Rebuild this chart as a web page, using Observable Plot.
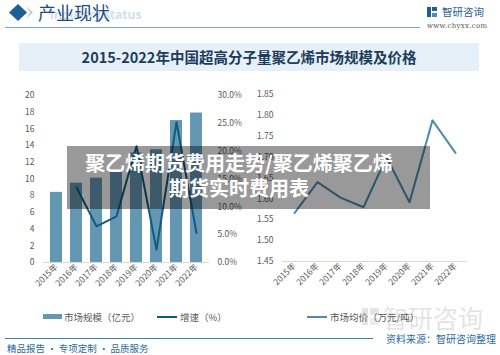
<!DOCTYPE html>
<html>
<head>
<meta charset="utf-8">
<script src="https://cdn.jsdelivr.net/npm/d3@7"></script>
<script src="https://cdn.jsdelivr.net/npm/@observablehq/plot@0.6"></script>
<style>
  html, body { margin:0; padding:0; background:#fff; }
  #root { position:relative; width:500px; height:355px; overflow:hidden; font-family:"Noto Sans CJK SC","Noto Sans",sans-serif; }
  .abs { position:absolute; }
  .plot { position:absolute; }
  .plot svg { background:transparent; }
</style>
</head>
<body>
<div id="root">
  <!-- header -->
  <div class="abs" style="left:50px;top:6px;font-size:12px;font-weight:bold;color:#d3dfea;font-family:'Open Sans',sans-serif;">Industry status</div>
  <svg class="abs" style="left:0;top:0" width="60" height="30">
    <path d="M18,4 L27,12.5 L18,21 L9,12.5 Z" fill="#1d5f96"/>
    <path d="M26,6 L33,12.5 L26,19 L30,12.5 Z" fill="#b9cfe2"/>
  </svg>
  <div class="abs" style="left:38px;top:0px;font-size:18px;color:#1a4f7c;line-height:24px;">产业现状</div>
  <div class="abs" style="left:5px;top:27px;width:415px;height:1px;background:#7fa6c6;"></div>
  <svg class="abs" style="left:427px;top:7px" width="12" height="11">
    <rect x="0" y="0" width="4" height="10" fill="#1d5f96"/>
    <rect x="5" y="0" width="5" height="4" fill="#1d5f96"/>
    <rect x="5" y="6" width="5" height="4" fill="#4a8bc4"/>
  </svg>
  <div class="abs" style="left:442px;top:5px;font-size:10.5px;color:#2e5e8e;line-height:14px;">智研咨询</div>
  <div class="abs" style="left:427px;top:22px;font-size:7px;color:#555;font-family:'DejaVu Serif',serif;letter-spacing:0.3px;">www.chyxx.com</div>

  <!-- title box -->
  <div class="abs" style="left:19px;top:43px;width:460px;height:28px;background:#e5f0f8;"></div>
  <div class="abs" style="left:19px;top:43px;width:460px;height:28px;line-height:28px;text-align:center;font-size:14.5px;font-weight:bold;color:#1f3c5a;">2015-2022年中国超高分子量聚乙烯市场规模及价格</div>

  <!-- charts -->
  <div id="left1" class="plot" style="left:0;top:85px"></div>
  <div id="left2" class="plot" style="left:0;top:85px"></div>
  <div id="right1" class="plot" style="left:250px;top:85px"></div>

  <!-- watermark bottom-right -->
  <div class="abs" style="left:383px;top:302px;font-size:25px;color:#e4e4e4;line-height:30px;">智研咨询</div>
  <svg class="abs" style="left:362px;top:308px" width="18" height="18">
    <rect x="0" y="0" width="6" height="17" fill="#e4e4e4"/>
    <rect x="8" y="0" width="9" height="7" fill="#e4e4e4"/>
    <rect x="8" y="10" width="9" height="7" fill="#e9eef3"/>
  </svg>

  <!-- legends -->
  <div id="legend" class="abs" style="left:0;top:309px;width:500px;height:16px;font-size:9.5px;color:#595959;"></div>

  <!-- footer -->
  <div class="abs" style="left:5px;top:338px;width:368px;height:1px;background:#3d7fb5;"></div>
  <div class="abs" style="left:386px;top:332px;font-size:10px;color:#2c6aa0;line-height:14px;">资料来源：智研咨询整理</div>
  <div class="abs" style="left:7px;top:342px;font-size:9.5px;color:#2c6aa0;line-height:13px;">精品报告 · 专项定制 · 品质服务</div>

  <!-- overlay banner -->
  <div class="abs" style="left:67px;top:146px;width:363px;height:63px;background:rgba(0,0,0,0.4);"></div>
  <div class="abs" style="left:0;top:150px;width:478px;text-align:center;font-size:20px;font-weight:bold;line-height:25px;color:#fff;">聚乙烯期货费用走势/聚乙烯聚乙烯<br>期货实时费用表</div>
</div>

<script>
// ---- data ----
const years = ["2015年","2016年","2017年","2018年","2019年","2020年","2021年","2022年"];
const marketSize = [8.4, 9.5, 10.1, 10.9, 13.1, 13.5, 17.0, 17.9];      // 亿元
const growthRate = [null, 13.5, 6.5, 8.3, 20.9, 2.3, 25.2, 5.3];       // %
const avgPrice = [1.566, 1.640, 1.603, 1.580, 1.700, 1.592, 1.788, 1.710]; // 万元/吨
const sizeTicks = [0, 2, 4, 6, 8, 10, 12, 14, 16, 18, 20];
const growthTicks = [0, 5, 10, 15, 20, 25, 30];
const priceTicks = [1.45, 1.50, 1.55, 1.60, 1.65, 1.70, 1.75, 1.80, 1.85];
const legendLeft = ["市场规模（亿元）", "增速（%）"];
const legendRight = ["市场均价（万元/吨）"];

const barColor = "#6497b1";
const growthColor = "#115b80";
const priceColor = "#4d8cac";
const font = "'Noto Sans CJK SC','Noto Sans',sans-serif";

const sizeData = years.map((y, i) => ({year: y, value: marketSize[i]}));
const growthData = years.map((y, i) => ({year: y, value: growthRate[i]}));
const priceData = years.map((y, i) => ({year: y, value: avgPrice[i]}));

const common = {
  width: 250, height: 225,
  style: {fontFamily: font, fontSize: "8.5px", color: "#595959", background: "transparent"}
};

// left: bars with left axis
const left1 = Plot.plot({
  ...common,
  marginTop: 10, marginBottom: 48, marginLeft: 43, marginRight: 41,
  x: {domain: years, paddingInner: 0.42, paddingOuter: 0.21, label: null, tickRotate: -45, tickSize: 0, tickPadding: 3},
  y: {domain: [0, 20], ticks: sizeTicks, label: null, tickSize: 0, tickPadding: 9},
  marks: [
    Plot.ruleY([0], {stroke: "#d9d9d9"}),
    Plot.barY(sizeData, {x: "year", y: "value", fill: barColor})
  ]
});
document.getElementById("left1").appendChild(left1);

// left: growth line with right axis
const left2 = Plot.plot({
  ...common,
  marginTop: 10, marginBottom: 48, marginLeft: 43, marginRight: 41,
  x: {domain: years, paddingInner: 0.42, paddingOuter: 0.21, axis: null},
  y: {domain: [0, 30], ticks: growthTicks, axis: "right", label: null, tickSize: 0, tickPadding: 8,
      tickFormat: d => d.toFixed(1) + "%"},
  marks: [
    Plot.lineY(growthData.filter(d => d.value != null), {x: "year", y: "value", stroke: growthColor, strokeWidth: 2})
  ]
});
document.getElementById("left2").appendChild(left2);

// right: price line
const right1 = Plot.plot({
  ...common,
  marginTop: 9, marginBottom: 49, marginLeft: 32, marginRight: 33,
  x: {domain: years, type: "point", padding: 0.5, label: null, tickRotate: -45, tickSize: 0, tickPadding: 3},
  y: {domain: [1.45, 1.85], ticks: priceTicks, label: null, tickSize: 0, tickPadding: 9,
      tickFormat: d => d.toFixed(2)},
  marks: [
    Plot.ruleY([1.45], {stroke: "#d9d9d9"}),
    Plot.lineY(priceData, {x: "year", y: "value", stroke: priceColor, strokeWidth: 2})
  ]
});
document.getElementById("right1").appendChild(right1);

// legends
const lg = document.getElementById("legend");
function addSwatch(x, type, color) {
  const s = document.createElement("div");
  s.style.position = "absolute";
  s.style.left = x + "px";
  s.style.background = color;
  if (type === "bar") { s.style.top = "5px"; s.style.width = "19px"; s.style.height = "5px"; }
  else { s.style.top = "7px"; s.style.width = "20px"; s.style.height = "2px"; }
  lg.appendChild(s);
}
function addText(x, t) {
  const s = document.createElement("div");
  s.style.position = "absolute";
  s.style.left = x + "px";
  s.style.top = "0px";
  s.style.lineHeight = "16px";
  s.style.whiteSpace = "nowrap";
  s.textContent = t;
  lg.appendChild(s);
}
addSwatch(43, "bar", barColor); addText(64, legendLeft[0]);
addSwatch(157, "line", growthColor); addText(180, legendLeft[1]);
addSwatch(307, "line", priceColor); addText(330, legendRight[0]);
</script>
</body>
</html>
